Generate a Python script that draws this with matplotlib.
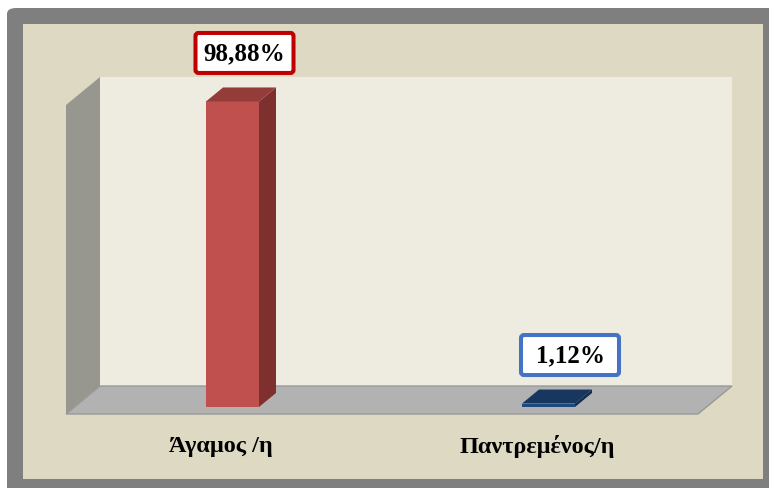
import matplotlib.pyplot as plt
from matplotlib.patches import Polygon, FancyBboxPatch, Rectangle
from matplotlib.transforms import ScaledTranslation

categories = ['Άγαμος /η', 'Παντρεμένος/η']
values = [98.88, 1.12]
value_labels = ['98,88%', '1,12%']

face_colors = ['#C0504D', '#1F497D']
side_colors = ['#7D302E', '#132D4E']
top_colors = ['#943C39', '#17375E']
box_colors = ['#C00000', '#4472C4']

W, H = 769, 489
fig = plt.figure(figsize=(W / 100, H / 100), dpi=100)
fig.patch.set_facecolor('white')


def fx(x):
    return x / W


def fy(y):
    return 1 - y / H


# outer frame and chart area (kept behind the axes)
frame = FancyBboxPatch((fx(7), fy(500)), fx(780) - fx(7), fy(9) - fy(500),
                       boxstyle='round,pad=0,rounding_size=0.012',
                       transform=fig.transFigure, facecolor='#7F7F7F',
                       edgecolor='none', zorder=-10)
fig.patches.append(frame)
fig.patches.append(Rectangle((fx(23), fy(480)), fx(763) - fx(23), fy(25) - fy(480),
                             transform=fig.transFigure, facecolor='#DDD9C3',
                             edgecolor='none', zorder=-9))

# axes covers the front plane of the 3d box
ax = fig.add_axes([fx(66), fy(415), fx(698) - fx(66), fy(106) - fy(415)])
ax.set_xlim(-0.5, 1.5)
ax.set_ylim(0, 100)
ax.axis('off')

# depth vector in data units
DX = 34 / 316
DY = 28 / 309 * 100


def poly(pts, color, z, ec='none', lw=0):
    p = Polygon(pts, closed=True, facecolor=color, edgecolor=ec, linewidth=lw,
                clip_on=False, zorder=z)
    ax.add_patch(p)


x0, x1 = ax.get_xlim()
top = 100
# back wall
poly([(x0 + DX, DY), (x1 + DX, DY), (x1 + DX, top + DY), (x0 + DX, top + DY)],
     '#EEECE1', 1)
# left wall
poly([(x0, 0), (x0 + DX, DY), (x0 + DX, top + DY), (x0, top)], '#97978F', 1)
# floor
poly([(x0, 0), (x1, 0), (x1 + DX, DY), (x0 + DX, DY)], '#B2B2B2', 2,
     ec='#999999', lw=1)

bw = 53 / 316
d0, d1 = 0.25, 0.75
for i, v in enumerate(values):
    a, b = i - bw / 2, i + bw / 2
    fa, fb = d0 * DX, d1 * DX
    ga, gb = d0 * DY, d1 * DY
    poly([(a + fa, ga), (b + fa, ga), (b + fa, v + ga), (a + fa, v + ga)],
         face_colors[i], 3)
    poly([(b + fa, ga), (b + fb, gb), (b + fb, v + gb), (b + fa, v + ga)],
         side_colors[i], 3)
    poly([(a + fa, v + ga), (b + fa, v + ga), (b + fb, v + gb), (a + fb, v + gb)],
         top_colors[i], 3)

    # value label: fixed-size box (in inches) anchored at the bar top,
    # nudged right a little more the further right the bar is (perspective)
    anchor = (i + 0.5 * DX, v + 0.5 * DY)
    nudge = 0.035 + 0.095 * i
    tr = fig.dpi_scale_trans + ScaledTranslation(anchor[0], anchor[1], ax.transData)
    box = FancyBboxPatch((nudge - 0.49, 0.415 - 0.20), 0.98, 0.40,
                         boxstyle='round,pad=0,rounding_size=0.03',
                         transform=tr, facecolor='white',
                         edgecolor=box_colors[i], linewidth=2.9,
                         clip_on=False, zorder=5)
    ax.add_patch(box)
    ax.annotate(value_labels[i], xy=anchor, xytext=(nudge * 72, 41.5 * 0.72),
                textcoords='offset points', ha='center', va='center',
                fontsize=18, fontweight='bold', family='Liberation Serif',
                color='black', zorder=6, annotation_clip=False)

    ax.annotate(categories[i], xy=(i, 0), xytext=(-2, -32 * 0.72),
                textcoords='offset points', ha='center', va='center',
                fontsize=17.5, fontweight='bold', family='Liberation Serif',
                color='black', annotation_clip=False)

fig.savefig('out.png', dpi=100)
